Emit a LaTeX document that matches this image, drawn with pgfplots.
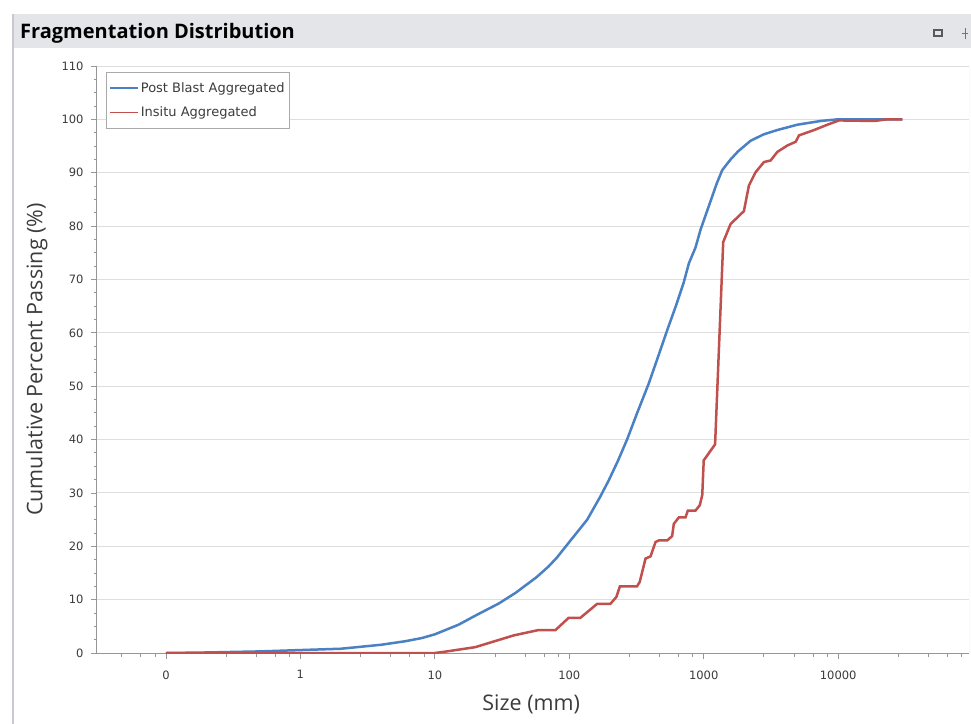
\documentclass[border=0pt]{standalone}
\usepackage{fontspec}
\setmainfont{Open Sans}
\newfontfamily\tickfont{DejaVu Sans}
\usepackage{pgfplots}
\pgfplotsset{compat=1.18}
\definecolor{bluel}{RGB}{74,128,196}
\definecolor{redl}{RGB}{192,80,77}
\definecolor{gridc}{RGB}{222,222,222}
\definecolor{axc}{RGB}{150,150,150}
\definecolor{barc}{RGB}{228,229,233}
\definecolor{framec}{RGB}{200,201,206}
\definecolor{txtc}{RGB}{60,60,60}
\definecolor{legc}{RGB}{170,170,170}

\pgfplotstableread{
x y
0.1 0
0.2 0.1
0.5 0.3
1 0.55
2 0.8
4 1.55
6 2.2
8 2.8
10 3.5
15 5.3
20 7.0
30 9.3
40 11.3
57 14.2
70 16.2
81 17.9
100 20.8
136 25
170 29.3
197 32.4
230 36
269 40
320 45
390 50.5
450 55
535 60.5
620 65
711 69.5
775 73
869 76
946 79.3
1100 84
1250 88
1374 90.5
1585 92.5
1800 94
2233 96
2800 97.2
3527 98
4970 99
7413 99.7
9860 100
30000 100
}\postblast

\pgfplotstableread{
x y
0.1 0
10 0
12.3 0.3
20 1.1
38.6 3.3
59 4.3
79 4.3
99 6.6
121 6.6
161 9.2
202 9.2
224 10.5
238 12.5
319 12.5
334 13.3
369 17.7
402 18.1
438 20.8
463 21.1
535 21.1
582 21.9
599 24.2
653 25.4
732 25.4
762 26.7
869 26.7
935 27.7
975 29.6
1000 36.1
1215 39.1
1396 77
1585 80.4
1990 82.8
2168 87.6
2432 90.1
2805 92
3147 92.3
3527 93.9
4187 95.1
4830 95.8
5117 97
6622 98
8318 99
10140 99.8
18500 99.7
23200 100
30000 100
}\insitu

\begin{document}
\begin{tikzpicture}
\fill[white] (0,0) rectangle (971bp,-724bp);
\fill[barc] (12bp,-14bp) rectangle (971bp,-48bp);
\draw[framec, line width=2bp] (13bp,-14bp) -- (13bp,-724bp);
\node[anchor=base west, font=\bfseries\fontsize{20bp}{22bp}\selectfont, inner sep=0pt, text=black] at (20bp,-38bp) {Fragmentation Distribution};
\draw[black!65, line width=1.3bp] (934bp,-30bp) rectangle (942bp,-36bp);
\draw[black!55, line width=1bp] (965bp,-28bp) -- (965bp,-36bp) (962bp,-33bp) -- (968bp,-33bp) (965bp,-36bp) -- (965bp,-39bp);
\begin{axis}[
  at={(97bp,-653bp)}, anchor=south west,
  scale only axis, width=872bp, height=587bp,
  xmode=log, xmin=0.0307, xmax=94000,
  ymin=0, ymax=110,
  xtick={0.1,1,10,100,1000,10000},
  xticklabels={0,1,10,100,1000,10000},
  minor xtick={0.047,0.065,0.083,0.28,0.47,0.65,0.83,2.8,4.7,6.5,8.3,28,47,65,83,280,470,650,830,2800,4700,6500,8300,28000,47000,65000,83000},
  ytick={0,10,...,110},
  minor y tick num=3,
  axis x line*=bottom, axis y line*=left,
  axis line style={axc, line width=1bp},
  tick align=outside,
  major tick length=6bp, minor tick length=3.5bp,
  tick style={axc, line width=0.8bp},
  ymajorgrids, grid style={gridc, line width=1bp},
  /pgf/number format/assume math mode=true,
  ticklabel style={font=\tickfont\fontsize{11.5bp}{13bp}\selectfont, text=txtc},
  yticklabel style={xshift=-4bp},
  xticklabel style={yshift=-8bp},
  xlabel={Size (mm)},
  ylabel={Cumulative Percent Passing (\%)},
  label style={font=\fontsize{21.5bp}{23bp}\selectfont, text=txtc},
  xlabel style={at={(axis description cs:0.498,-0.087)}, anchor=center},
  ylabel style={at={(axis description cs:-0.069,0.5)}, anchor=center},
  legend style={at={(axis description cs:0.0103,0.9898)}, anchor=north west,
    draw=legc, fill=white, line width=0.8bp,
    font=\tickfont\fontsize{13bp}{15bp}\selectfont, text=txtc,
    inner xsep=3bp, inner ysep=8bp, row sep=9bp},
  legend cell align=left,
  legend image code/.code={\draw[#1, line width=1.5bp] (0bp,0bp) -- (28bp,0bp);},
]
\addplot[bluel, line width=2.5bp] table[x=x,y=y] {\postblast};
\addlegendentry{Post Blast Aggregated}
\addplot[redl, line width=2.5bp] table[x=x,y=y] {\insitu};
\addlegendentry{Insitu Aggregated}
\draw[gridc, line width=1bp] (rel axis cs:1,0) -- (rel axis cs:1,1);
\end{axis}
\pgfresetboundingbox
\useasboundingbox (0,0) rectangle (971bp,-724bp);
\end{tikzpicture}
\end{document}
